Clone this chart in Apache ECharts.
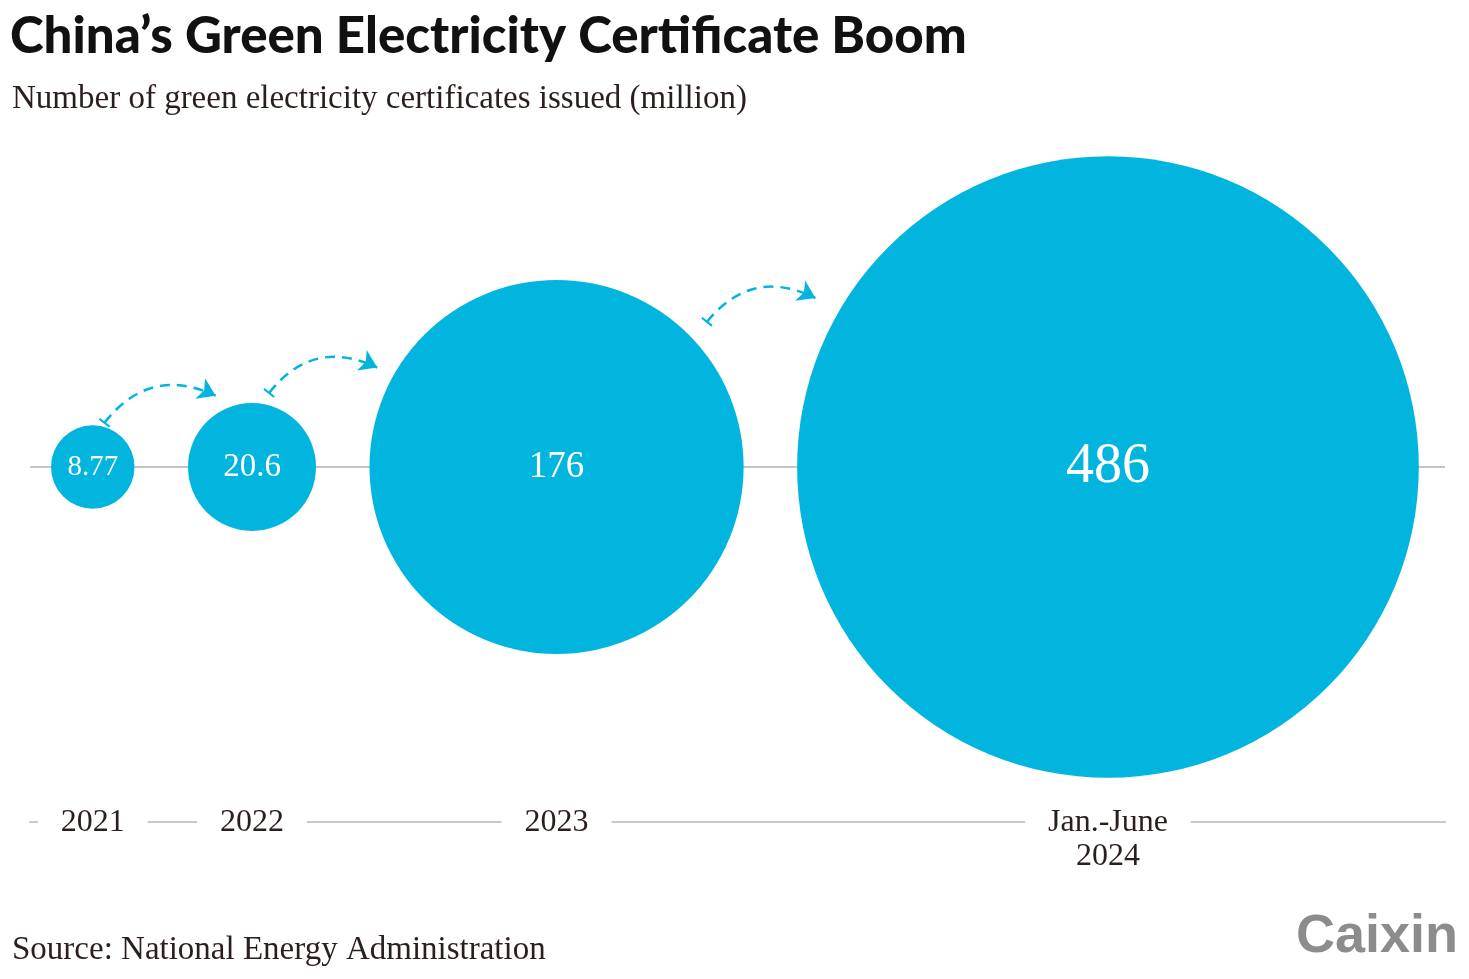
<!DOCTYPE html>
<html><head><meta charset="utf-8">
<script src="https://cdn.jsdelivr.net/npm/echarts@6/dist/echarts.min.js"></script>
<style>html,body{margin:0;padding:0;background:#fff}#c{width:1469px;height:979px}</style>
</head><body><div id="c"></div>
<script>
// ---- data ----
const categories = ['2021', '2022', '2023', 'Jan.-June\n2024'];
const values = [8.77, 20.6, 176, 486];
const valueLabels = ['8.77', '20.6', '176', '486'];

// ---- layout / style constants ----
const W = 1469, H = 979;
const GRID_LEFT = 30, GRID_RIGHT = 24, GRID_BOTTOM = 157;
const Y_MAX = H - GRID_BOTTOM;          // axis units = pixels
const CENTER_Y = 467;
const RADIUS_PER_SQRT = 14.1;           // bubble area proportional to value
const FIRST_LEFT = 51, GAP = 53.5;
const LABEL_FONT = [29, 33, 37, 56];
const BLUE = '#02b5de';
const SERIF = '"Liberation Serif", "DejaVu Serif", serif';
const INK = '#2a1f1d';
// arrows: [start angle deg, start gap, end angle deg, end gap]
const ARROW_GEOM = [[75, 4, 117, 16], [77, 12, 151, 18], [44, 22, 150, 27]];

const radii = values.map(v => RADIUS_PER_SQRT * Math.sqrt(v));
const centers = [];
radii.forEach((r, i) => {
  centers.push(i === 0 ? FIRST_LEFT + r : centers[i - 1] + radii[i - 1] + GAP + r);
});

function onCircle(i, angDeg, gap) {
  const a = angDeg * Math.PI / 180, d = radii[i] + gap;
  return [centers[i] + d * Math.cos(a), CENTER_Y - d * Math.sin(a)];
}
const arrows = ARROW_GEOM.map((g, i) => ({ coords: [onCircle(i, g[0], g[1]), onCircle(i + 1, g[2], g[3])] }));

const barSymbol = 'path://M0,0 L0,0 Z M0,4.2 L10,4.2 L10,5.8 L0,5.8 Z M10,10 L10,10 Z';

const chart = echarts.init(document.getElementById('c'), null, { renderer: 'canvas' });
chart.setOption({
  backgroundColor: '#ffffff',
  animation: false,
  title: [
    { text: 'China\u2019s Green Electricity Certificate Boom', left: 10, top: 11, padding: 0,
      textStyle: { fontFamily: 'Lato', fontWeight: 900, fontSize: 51, color: '#111111' } },
    { text: 'Number of green electricity certificates issued (million)', left: 12, top: 83, padding: 0,
      textStyle: { fontFamily: SERIF, fontWeight: 'normal', fontSize: 33, color: INK } },
    { text: 'Source: National Energy Administration', left: 12, top: 934, padding: 0,
      textStyle: { fontFamily: SERIF, fontWeight: 'normal', fontSize: 33, color: INK } },
    { text: 'Caixin', right: 11, top: 910, padding: 0,
      textStyle: { fontFamily: '"Liberation Sans", Arial, sans-serif', fontWeight: 'bold', fontSize: 54, color: '#8c8c8c' } }
  ],
  grid: { left: GRID_LEFT, right: GRID_RIGHT, top: 0, bottom: GRID_BOTTOM, containLabel: false },
  xAxis: {
    type: 'value', min: GRID_LEFT, max: W - GRID_RIGHT, position: 'bottom',
    axisLine: { show: true, onZero: false, lineStyle: { color: '#c8c8c8', width: 2 } },
    axisTick: { show: false },
    splitLine: { show: false },
    axisLabel: {
      customValues: centers,
      margin: -16,
      formatter: function (v) {
        let best = 0;
        centers.forEach((c, i) => { if (Math.abs(c - v) < Math.abs(centers[best] - v)) best = i; });
        return categories[best];
      },
      fontFamily: SERIF, fontSize: 32, lineHeight: 34, color: INK,
      backgroundColor: '#ffffff', padding: [0, 23, 0, 23], verticalAlign: 'top'
    }
  },
  yAxis: { type: 'value', min: 0, max: Y_MAX, inverse: true, show: false },
  series: [
    {
      type: 'line', z: 1, silent: true, symbol: 'none',
      data: [[GRID_LEFT, CENTER_Y], [W - GRID_RIGHT, CENTER_Y]],
      lineStyle: { color: '#c4c4c4', width: 2 }
    },
    {
      type: 'scatter', z: 2, silent: true, symbol: 'circle',
      data: centers.map((x, i) => ({
        value: [x, CENTER_Y], symbolSize: 2 * radii[i],
        label: { fontSize: LABEL_FONT[i] }
      })),
      itemStyle: { color: BLUE, opacity: 1 },
      label: {
        show: true, position: 'inside', color: '#ffffff', fontFamily: SERIF,
        formatter: p => valueLabels[p.dataIndex]
      }
    },
    {
      type: 'lines', coordinateSystem: 'cartesian2d', z: 3, silent: true,
      symbol: [barSymbol, 'arrow'], symbolSize: [13, 17],
      lineStyle: { color: BLUE, width: 2.5, type: [10, 7], curveness: 0.4, opacity: 1 },
      data: arrows
    }
  ]
});
</script></body></html>
